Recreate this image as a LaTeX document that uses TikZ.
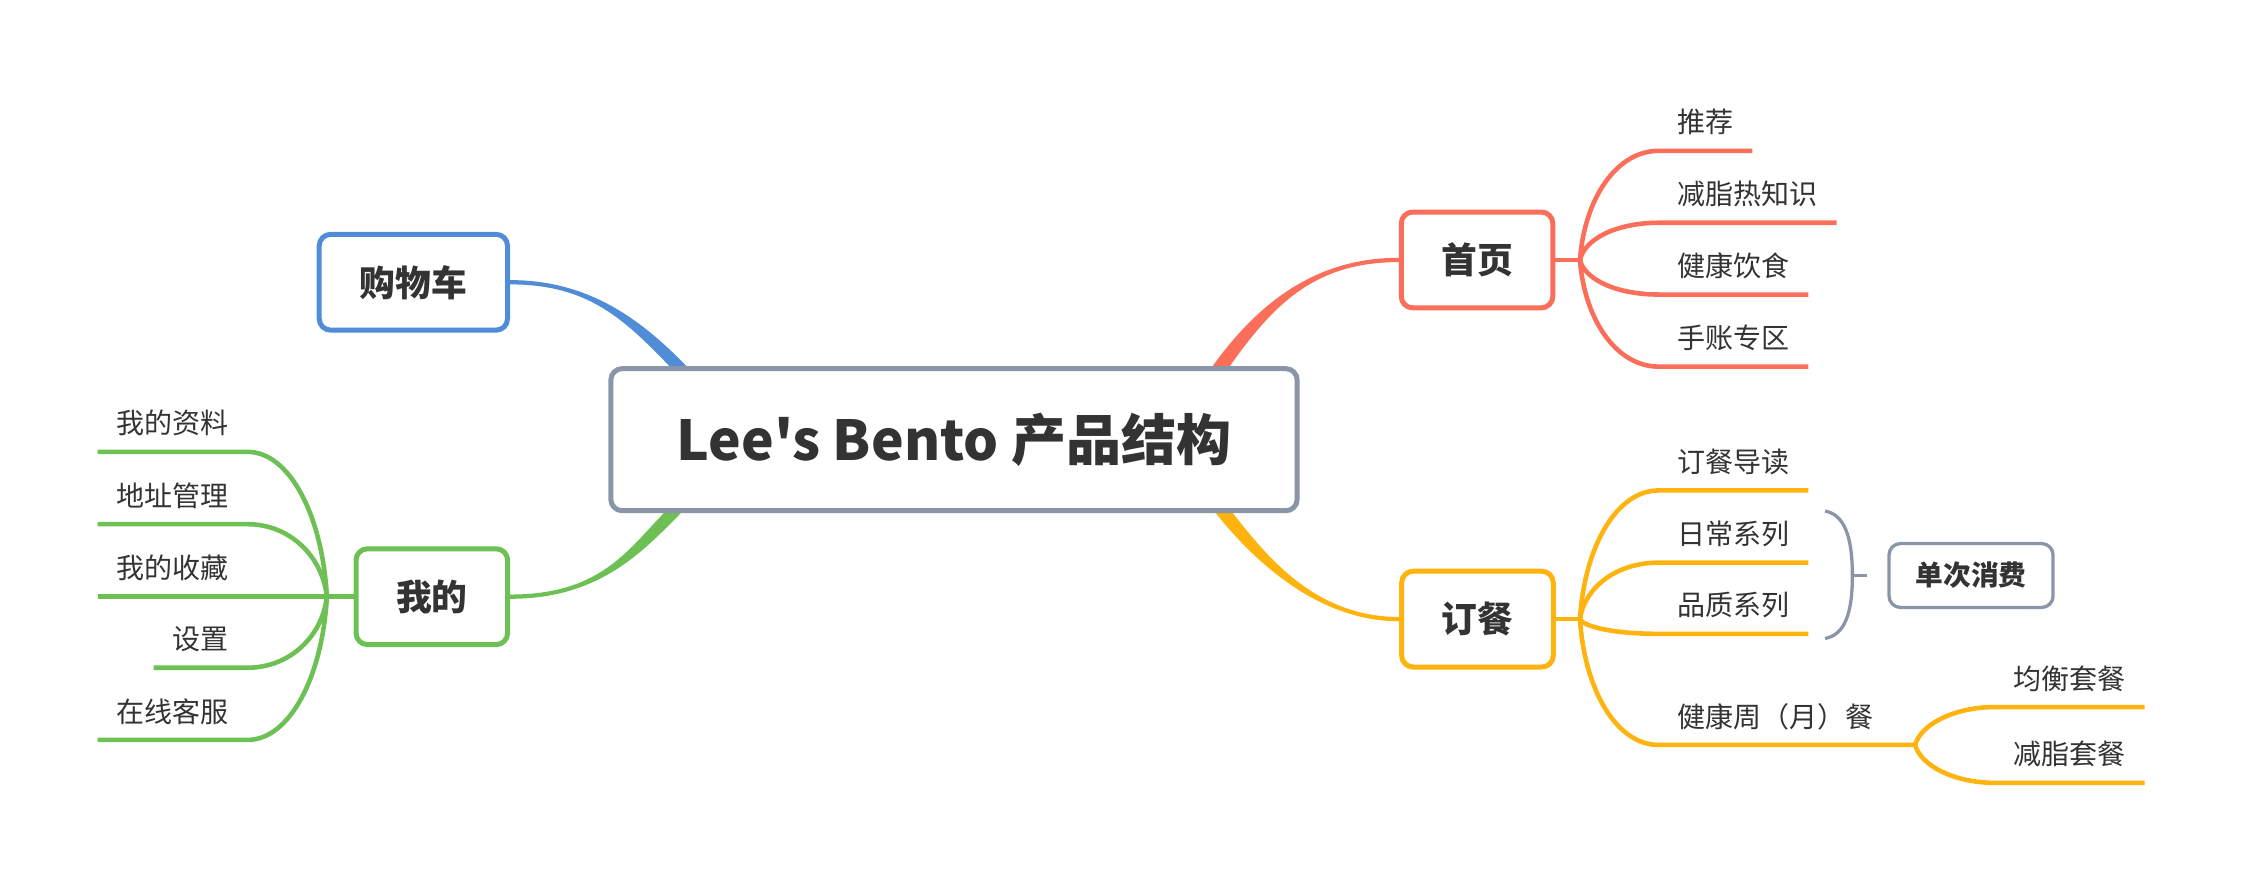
\documentclass[tikz,border=0pt]{standalone}
\usepackage{fontspec}
\newfontfamily\cjk{Noto Sans CJK SC}
\usetikzlibrary{calc}
\definecolor{txt}{HTML}{333333}
\definecolor{hubgray}{HTML}{8A96A8}
\definecolor{homered}{HTML}{FA6E5A}
\definecolor{orderyel}{HTML}{FFB30F}
\definecolor{megreen}{HTML}{6CC054}
\definecolor{cartblue}{HTML}{508CD7}
\tikzset{
  topic/.style={draw, line width=3.5pt, rounded corners=8pt, fill=white, text=txt,
    font=\cjk\bfseries\fontsize{25}{30}\selectfont, minimum width=106pt, minimum height=67pt, inner sep=0pt},
  leaf/.style={text=txt, font=\cjk\fontsize{19.6}{24}\selectfont, inner xsep=13pt, inner ysep=0pt},
  twig/.style={line width=3.2pt},
}

\begin{document}
\begin{tikzpicture}[x=1pt, y=-1pt]
\useasboundingbox (0,0) rectangle (1568,620);
% where the thick branches meet the title box
\coordinate (hubcart) at (477,259);
\coordinate (hubme) at (474,355);
\coordinate (hubhome) at (852,259);
\coordinate (huborder) at (854,356);
% topics
\path (289.1,197.4) node[topic, draw=cartblue, minimum width=131.7pt] (cart) {购物车};
\path (302,417.3) node[topic, draw=megreen] (me) {我的};
\path (1033,181.8) node[topic, draw=homered] (home) {首页};
\path (1033.3,433) node[topic, draw=orderyel] (order) {订餐};
% tapered main branches
\fill[cartblue] ($(cart.east)+(0,-1.5)$) .. controls +(55,0) and +(-34.5,-36) .. ($(hubcart)+(6,0)$)
  -- ($(hubcart)+(-6,0)$) .. controls +(-34.5,-36) and +(55,0) .. ($(cart.east)+(0,1.5)$) -- cycle;
\fill[megreen] ($(me.east)+(0,1.5)$) .. controls +(65,0) and +(-28.3,28.3) .. ($(hubme)+(6,0)$)
  -- ($(hubme)+(-6,0)$) .. controls +(-28.3,28.3) and +(65,0) .. ($(me.east)+(0,-1.5)$) -- cycle;
\fill[homered] ($(home.west)+(0,-1.5)$) .. controls +(-60,0) and +(31.6,-45) .. ($(hubhome)+(-6,0)$)
  -- ($(hubhome)+(6,0)$) .. controls +(31.6,-45) and +(-60,0) .. ($(home.west)+(0,1.5)$) -- cycle;
\fill[orderyel] ($(order.west)+(0,1.5)$) .. controls +(-60,0) and +(24.6,31.5) .. ($(huborder)+(-6,0)$)
  -- ($(huborder)+(6,0)$) .. controls +(24.6,31.5) and +(-60,0) .. ($(order.west)+(0,-1.5)$) -- cycle;
\path (667.2,307.5) node[topic, draw=hubgray, minimum width=480pt, minimum height=99.4pt,
  font=\cjk\bfseries\fontsize{38.5}{46}\selectfont] (hub) {Lee's Bento 产品结构};
\node[topic, draw=hubgray, line width=2.3pt, minimum width=114.7pt, minimum height=44.7pt,
  font=\cjk\bfseries\fontsize{19.4}{23}\selectfont] (single) at (1378.5,402.5) {单次消费};

% 首页
\coordinate (hb) at (1105,181.8);
\draw[twig, homered] (home.east) -- (hb);
\node[leaf, anchor=west] (tuijian) at (1160,85.5) {推荐};
\node[leaf, anchor=west] (zhishi) at (1160,135.8) {减脂热知识};
\node[leaf, anchor=west] (yinshi) at (1160,186) {健康饮食};
\node[leaf, anchor=west] (shouzhang) at (1160,236.4) {手账专区};
\draw[twig, homered] (hb) .. controls +(3,-42) and +(-30,0) .. ([yshift=-20pt]tuijian.west) -- ([yshift=-20pt]tuijian.east);
\draw[twig, homered] (hb) .. controls +(3,-14.3) and +(-30,0) .. ([yshift=-20pt]zhishi.west) -- ([yshift=-20pt]zhishi.east);
\draw[twig, homered] (hb) .. controls +(3,13.3) and +(-30,0) .. ([yshift=-20pt]yinshi.west) -- ([yshift=-20pt]yinshi.east);
\draw[twig, homered] (hb) .. controls +(3,41) and +(-30,0) .. ([yshift=-20pt]shouzhang.west) -- ([yshift=-20pt]shouzhang.east);

% 订餐
\coordinate (ob) at (1105,433);
\coordinate (wb) at (1339.4,521);
\draw[twig, orderyel] (order.east) -- (ob);
\node[leaf, anchor=west] (daodu) at (1160,323) {订餐导读};
\node[leaf, anchor=west] (richang) at (1160,373.5) {日常系列};
\node[leaf, anchor=west] (pinzhi) at (1160,423.3) {品质系列};
\node[leaf, anchor=west] (zhoucan) at (1160,501) {健康周（月）餐};
\draw[twig, orderyel] (ob) .. controls +(3,-49.5) and +(-30,0) .. ([yshift=-20pt]daodu.west) -- ([yshift=-20pt]daodu.east);
\draw[twig, orderyel] (ob) .. controls +(3,-21.7) and +(-30,0) .. ([yshift=-20pt]richang.west) -- ([yshift=-20pt]richang.east);
\draw[twig, orderyel] (ob) .. controls +(3,5.7) and +(-30,0) .. ([yshift=-20pt]pinzhi.west) -- ([yshift=-20pt]pinzhi.east);
\draw[twig, orderyel] (ob) .. controls +(3,48.4) and +(-30,0) .. ([yshift=-20pt]zhoucan.west) -- (wb);
\node[leaf, anchor=west] (junheng) at (1395,474.5) {均衡套餐};
\node[leaf, anchor=west] (jianzhi) at (1395,527.5) {减脂套餐};
\draw[twig, orderyel] (wb) .. controls +(4,-14.6) and +(-28,0) .. ([yshift=-20pt]junheng.west) -- ([yshift=-20pt]junheng.east);
\draw[twig, orderyel] (wb) .. controls +(4,14.6) and +(-28,0) .. ([yshift=-20pt]jianzhi.west) -- ([yshift=-20pt]jianzhi.east);

% 单次消费 brace
\coordinate (bt) at (1276.4,357.4);
\coordinate (bm) at (1295.5,402.5);
\coordinate (bb) at (1276.4,446.5);
\coordinate (bs) at (1306,402.5);
\draw[hubgray, line width=2.3pt] (bt) .. controls +(13.6,2.6) and +(0,-27) .. (bm) .. controls +(0,27) and +(13.6,-2.5) .. (bb);
\draw[hubgray, line width=2.3pt] (bm) -- (bs);

% 我的
\coordinate (mb) at (228.6,417.3);
\draw[twig, megreen] (me.west) -- (mb);
\node[leaf, anchor=east] (ziliao) at (173,296) {我的资料};
\node[leaf, anchor=east] (dizhi) at (173,346.6) {地址管理};
\node[leaf, anchor=east] (shoucang) at (173,397.3) {我的收藏};
\node[leaf, anchor=east] (shezhi) at (173,447) {设置};
\node[leaf, anchor=east] (kefu) at (173,497.5) {在线客服};
\draw[twig, megreen] (mb) .. controls +(-3,-55.7) and +(30,0) .. ([yshift=-20pt]ziliao.east) -- ([yshift=-20pt]ziliao.west);
\draw[twig, megreen] (mb) .. controls +(-3,-27.9) and +(30,0) .. ([yshift=-20pt]dizhi.east) -- ([yshift=-20pt]dizhi.west);
\draw[twig, megreen] (mb) -- ([yshift=-20pt]shoucang.east) -- ([yshift=-20pt]shoucang.west);
\draw[twig, megreen] (mb) .. controls +(-3,27.3) and +(30,0) .. ([yshift=-20pt]shezhi.east) -- ([yshift=-20pt]shezhi.west);
\draw[twig, megreen] (mb) .. controls +(-3,55.1) and +(30,0) .. ([yshift=-20pt]kefu.east) -- ([yshift=-20pt]kefu.west);
\end{tikzpicture}
\end{document}
